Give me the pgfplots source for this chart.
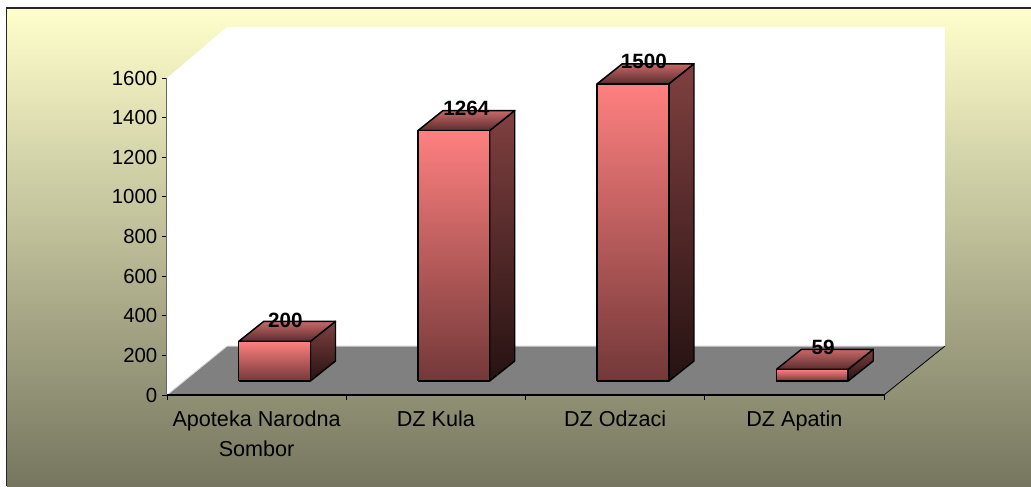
\documentclass[border=0pt]{standalone}
\usepackage{pgfplots}
\usepackage{fontspec}
\setmainfont{Liberation Sans}
\pgfplotsset{compat=1.18}
\definecolor{bgtop}{HTML}{FFFFCC}
\definecolor{bgbot}{HTML}{767660}
\definecolor{facetop}{HTML}{FF8080}
\definecolor{facebot}{HTML}{733838}
\definecolor{sidetop}{HTML}{804040}
\definecolor{sidebot}{HTML}{261212}
\definecolor{lidback}{HTML}{C86868}
\definecolor{lidfront}{HTML}{5A2C2C}
% px = 0.75pt. Axis box: x 167..884 px, y 395..78 px
% one category = 179.25 px; one px = 5.047 value units
\newcommand\threedbar[2]{%
  \pgfmathsetmacro\xa{#1+0.40}%
  \pgfmathsetmacro\xb{#1+0.80}%
  \pgfmathsetmacro\xc{#1+0.94}%
  \pgfmathsetmacro\xd{#1+0.54}%
  \pgfmathsetmacro\ya{70.7}%
  \pgfmathsetmacro\yb{70.7+#2}%
  \pgfmathsetmacro\yc{171.7}%
  \pgfmathsetmacro\yd{171.7+#2}%
  \addplot[draw=black,line width=1.1pt,line join=round,top color=sidetop,bottom color=sidebot]
    coordinates {(\xb,\ya)(\xc,\yc)(\xc,\yd)(\xb,\yb)(\xb,\ya)};
  \addplot[draw=black,line width=1.1pt,line join=round,top color=lidback,bottom color=lidfront]
    coordinates {(\xa,\yb)(\xd,\yd)(\xc,\yd)(\xb,\yb)(\xa,\yb)};
  \addplot[draw=black,line width=1.1pt,line join=round,top color=facetop,bottom color=facebot]
    coordinates {(\xa,\ya)(\xa,\yb)(\xb,\yb)(\xb,\ya)(\xa,\ya)};
}
\pgfplotstableread{
x     y     lab
0.66  378   200
1.67  1445  1264
2.66  1682  1500
3.66  240   59
}\labeltable
\begin{document}
\begin{tikzpicture}[x=0.75pt,y=0.75pt]
\path[use as bounding box] (0,0) rectangle (1031,486);
\fill[white] (0,0) rectangle (1031,486);
\shade[top color=bgtop,bottom color=bgbot] (7,0) rectangle (1031,478);
\draw[black!85,line width=1.3pt] (6.5,0) -- (6.5,478) -- (1031,478);
\begin{axis}[
  at={(125.25pt,68.25pt)},anchor=south west,
  scale only axis,width=537.75pt,height=237.75pt,
  xmin=0,xmax=4,ymin=0,ymax=1600,clip=false,
  axis lines=left,axis line style={-},
  x axis line style={black,line width=0.9pt},
  y axis line style={black!60,line width=0.9pt},
  tick align=outside,major tick length=3.75pt,
  tick style={black,line width=0.6pt},
  xtick={0,1,2,3,4},xticklabels={},
  extra x ticks={0.5,1.5,2.5,3.5},
  extra x tick labels={{Apoteka Narodna\\Sombor},{DZ Kula},{DZ Odzaci},{DZ Apatin}},
  extra x tick style={major tick length=0pt,tick label style={align=center,anchor=north,yshift=-8pt,font=\fontsize{16.2}{23}\selectfont}},
  ytick={0,200,400,600,800,1000,1200,1400,1600},
  yticklabel style={font=\fontsize{15.3}{15.3}\selectfont,/pgf/number format/assume math mode=true,/pgf/number format/1000 sep={}},
]
% back and side walls
\addplot[draw=none,fill=white] coordinates {(0,1600)(0.335,1858)(4.34,1858)(4.34,247)(0.335,247)(0,0)(0,1600)};
% floor
\addplot[draw=none,fill=black!50] coordinates {(0,0)(4,0)(4.34,247)(0.335,247)(0,0)};
\addplot[draw=black!15,line width=0.7pt] coordinates {(0,0)(0.335,247)(4.34,247)};
\addplot[draw=black,line width=0.6pt] coordinates {(4,0)(4.34,247)};
% bars: value read from the picture is the second argument
\threedbar{0}{200}
\threedbar{1}{1264}
\threedbar{2}{1500}
\threedbar{3}{59}
% axis lines again over the floor
\addplot[draw=black,line width=0.9pt] coordinates {(0,0)(4,0)};
\addplot[draw=none,mark=none,point meta=explicit symbolic,nodes near coords,
  every node near coord/.style={anchor=center,inner sep=0pt,font=\fontsize{15.5}{15.5}\selectfont\bfseries,text=black}]
  table[x=x,y=y,meta=lab] {\labeltable};
\end{axis}
\end{tikzpicture}
\end{document}
